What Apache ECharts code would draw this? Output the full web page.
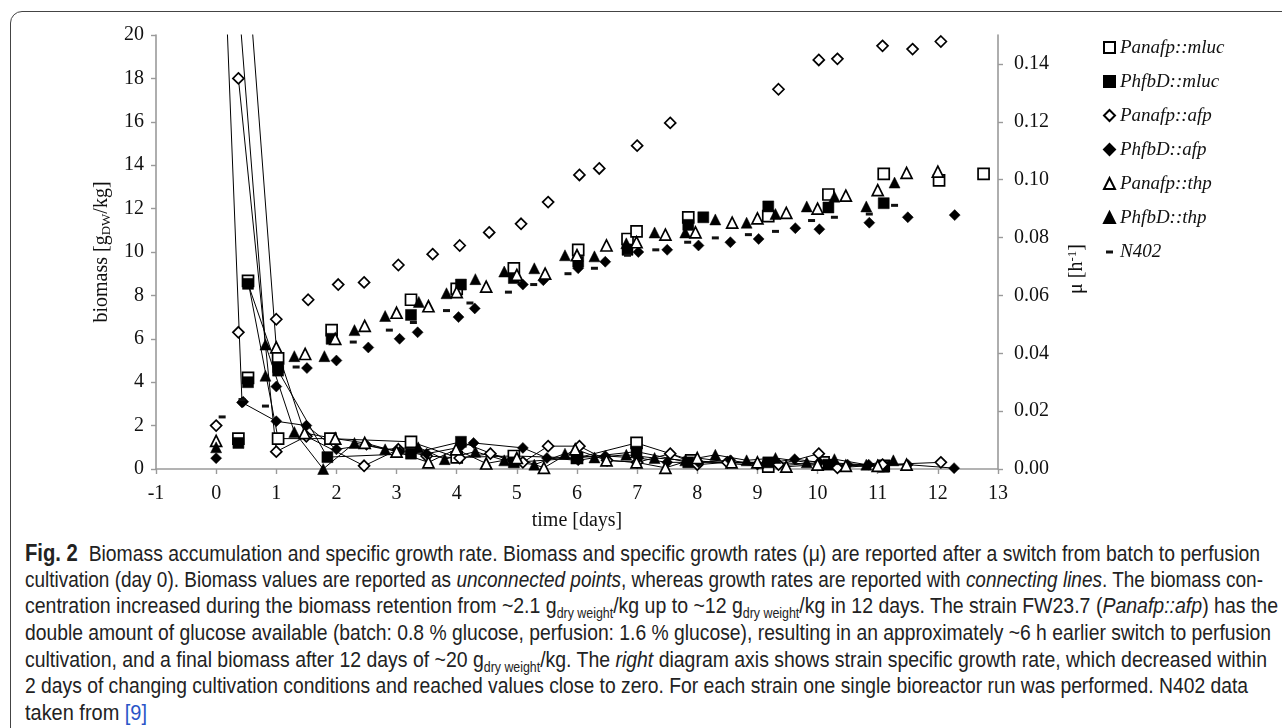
<!DOCTYPE html>
<html>
<head>
<meta charset="utf-8">
<script src="https://cdn.jsdelivr.net/npm/echarts@6/dist/echarts.min.js"></script>
<style>
  html, body { margin:0; padding:0; background:#fff; }
  body { width:1282px; height:728px; position:relative; overflow:hidden; }
  #frame { position:absolute; left:10px; top:11px; width:1300px; height:800px; border:1.5px solid #444; border-radius:12px; box-sizing:border-box; }
  #chart { position:absolute; left:0; top:0; width:1282px; height:540px; }
  #caption { position:absolute; left:25px; top:540px; font-family:"Liberation Sans","Noto Sans",sans-serif; font-size:22px; line-height:26.7px; color:#222; }
  #caption .row { height:26.7px; white-space:nowrap; }
  #caption .ln { display:inline-block; white-space:nowrap; transform-origin:0 50%; }
  #caption sub { font-size:14px; vertical-align:-5px; line-height:0; }
  #caption b { font-size:23px; }
  #caption .ref { color:#2a55c8; }
</style>
</head>
<body>
<div id="frame"></div>
<div id="chart"></div>
<div id="caption">
  <div class="row"><span class="ln" data-w="1235"><b>Fig. 2</b>&nbsp; Biomass accumulation and specific growth rate. Biomass and specific growth rates (μ) are reported after a switch from batch to perfusion</span></div>
  <div class="row"><span class="ln" data-w="1238">cultivation (day 0). Biomass values are reported as <i>unconnected points</i>, whereas growth rates are reported with <i>connecting lines</i>. The biomass con-</span></div>
  <div class="row"><span class="ln" data-w="1253">centration increased during the biomass retention from ~2.1 g<sub>dry weight</sub>/kg up to ~12 g<sub>dry weight</sub>/kg in 12 days. The strain FW23.7 (<i>Panafp::afp</i>) has the</span></div>
  <div class="row"><span class="ln" data-w="1246">double amount of glucose available (batch: 0.8 % glucose, perfusion: 1.6 % glucose), resulting in an approximately ~6 h earlier switch to perfusion</span></div>
  <div class="row"><span class="ln" data-w="1242">cultivation, and a final biomass after 12 days of ~20 g<sub>dry weight</sub>/kg. The <i>right</i> diagram axis shows strain specific growth rate, which decreased within</span></div>
  <div class="row"><span class="ln" data-w="1223">2 days of changing cultivation conditions and reached values close to zero. For each strain one single bioreactor run was performed. N402 data</span></div>
  <div class="row"><span class="ln" data-w="122">taken from <span class="ref">[9]</span></span></div>
</div>
<script>
// ---- tick labels / axis settings ----
const xTicks = { min: -1, max: 13, interval: 1 };
const yLeftTicks = { min: 0, max: 20, interval: 2 };
const yRightTicks = { min: 0, max: 0.15, interval: 0.02 };

const strains = ['Panafp::mluc','PhfbD::mluc','Panafp::afp','PhfbD::afp','Panafp::thp','PhfbD::thp','N402'];

// ---- biomass [gDW/kg] (unconnected points), [time days, biomass] ----
const bioPanafpMluc = [[0.37,1.4],[0.53,4.2],[1.03,5.1],[1.92,6.4],[3.24,7.8],[4.0,8.3],[4.95,9.25],[6.02,10.1],[6.84,10.6],[6.99,10.95],[7.85,11.6],[9.18,11.65],[10.18,12.65],[11.1,13.6],[12.02,13.3],[12.76,13.6]];
const bioPhfbdMluc = [[0.37,1.2],[0.53,4.0],[1.03,4.7],[1.92,6.0],[3.24,7.1],[4.07,8.5],[4.95,8.8],[6.02,9.55],[6.84,10.1],[7.85,11.25],[8.1,11.6],[9.18,12.1],[10.18,12.05],[11.1,12.25]];
const bioPanafpAfp = [[0,2.0],[0.37,6.3],[1.0,6.9],[1.53,7.8],[2.03,8.5],[2.46,8.6],[3.03,9.4],[3.6,9.9],[4.05,10.3],[4.54,10.9],[5.07,11.3],[5.52,12.3],[6.04,13.55],[6.37,13.85],[7.0,14.9],[7.55,15.95],[9.35,17.5],[10.02,18.85],[10.33,18.9],[11.08,19.5],[11.58,19.35],[12.05,19.7]];
const bioPhfbdAfp = [[0,0.5],[0.45,3.1],[1.0,3.8],[1.51,4.65],[2.0,5.0],[2.53,5.6],[3.05,6.0],[3.35,6.3],[4.03,7.0],[4.3,7.4],[5.1,8.5],[5.44,8.7],[6.02,9.25],[6.47,9.55],[7.02,10.0],[7.5,10.1],[8.02,10.3],[8.55,10.45],[9.02,10.6],[9.63,11.1],[10.03,11.05],[10.86,11.35],[11.5,11.6],[12.28,11.7]];
const bioPanafpThp = [[0,1.3],[1.48,5.3],[1.98,6.0],[2.47,6.6],[3.0,7.2],[3.53,7.5],[4.0,8.15],[4.49,8.4],[5.0,8.95],[5.47,9.0],[6.0,9.85],[6.49,10.3],[6.99,10.45],[7.47,10.8],[7.97,10.9],[8.58,11.35],[9.0,11.55],[9.48,11.8],[10.0,12.0],[10.47,12.6],[11.0,12.85],[11.48,13.65],[12.0,13.7]];
const bioPhfbdThp = [[0,1.0],[0.82,4.3],[1.3,5.2],[1.8,5.2],[2.3,6.4],[2.81,7.05],[3.37,7.7],[3.83,8.1],[4.31,8.75],[4.79,9.1],[5.29,9.25],[5.8,9.85],[6.29,9.8],[6.82,10.4],[7.29,10.9],[7.8,10.9],[8.3,11.5],[8.82,11.35],[9.3,11.75],[9.82,12.1],[10.28,12.55],[10.81,12.1],[11.28,13.2]];
const bioN402 = [[0.1,2.4],[0.43,3.2],[0.82,2.9],[1.33,4.7],[2.28,5.85],[2.88,6.4],[3.28,6.75],[3.83,7.3],[4.22,7.65],[4.86,8.15],[5.28,8.5],[5.85,9.0],[6.29,9.25],[6.84,9.85],[7.31,10.1],[7.84,10.45],[8.3,10.65],[8.85,10.8],[9.3,10.95],[9.9,11.45],[10.28,11.6],[10.86,11.75],[11.28,12.15]];

// ---- specific growth rate mu [1/h] (connected lines), [time days, mu] ----
const muPanafpMluc = [[0.53,0.065],[1.03,0.0105],[1.9,0.0105],[3.24,0.0094],[4.0,0.004],[4.95,0.0045],[6.0,0.0038],[6.99,0.009],[7.9,0.003],[9.18,0.0008],[10.1,0.0023],[11.1,0.0011]];
const muPhfbdMluc = [[0.53,0.064],[1.03,0.034],[1.85,0.0041],[3.24,0.0053],[4.07,0.0094],[4.95,0.0023],[6.0,0.0038],[6.99,0.006],[7.85,0.0023],[9.18,0.0023],[10.18,0.0015],[11.1,0.0008]];
const muPanafpAfp = [[0.37,0.135],[1.0,0.006],[1.5,0.0113],[2.46,0.0011],[3.03,0.0068],[3.5,0.0045],[4.05,0.0038],[4.56,0.0053],[5.1,0.0023],[5.52,0.0079],[6.04,0.0079],[6.5,0.003],[7.0,0.0023],[7.55,0.0053],[8.0,0.0015],[8.5,0.0023],[9.35,0.0015],[10.02,0.0053],[10.33,0.0004],[11.08,0.0015],[12.05,0.0023]];
const muPhfbdAfp = [[0.15,0.17],[0.43,0.023],[1.0,0.0165],[1.5,0.015],[2.0,0.0068],[2.5,0.0083],[3.05,0.006],[3.5,0.0053],[4.05,0.0075],[4.28,0.009],[5.1,0.0073],[5.5,0.0038],[6.02,0.003],[6.47,0.0045],[7.02,0.0038],[7.5,0.0023],[8.02,0.0023],[8.55,0.003],[9.0,0.0015],[9.62,0.0034],[10.03,0.0023],[10.5,0.0015],[10.85,0.0015],[11.5,0.0015],[12.27,0.0003]];
const muPanafpThp = [[0.5,0.18],[1.0,0.042],[1.47,0.0124],[1.98,0.0105],[2.47,0.009],[3.0,0.006],[3.53,0.0023],[3.99,0.0068],[4.49,0.0019],[5.0,0.0038],[5.45,0.0004],[5.97,0.0068],[6.49,0.003],[6.99,0.0023],[7.47,0.0004],[8.0,0.0038],[8.57,0.0023],[9.0,0.0023],[9.48,0.0008],[10.0,0.0015],[10.47,0.0011],[11.0,0.0011],[11.48,0.0015]];
const muPhfbdThp = [[0.4,0.155],[0.82,0.043],[1.3,0.0128],[1.78,0.0],[2.3,0.009],[2.81,0.0068],[3.36,0.0075],[3.8,0.0034],[4.31,0.006],[4.79,0.003],[5.29,0.0015],[5.8,0.0053],[6.29,0.004],[6.82,0.0049],[7.29,0.0038],[7.8,0.003],[8.3,0.0049],[8.82,0.003],[9.3,0.0038],[9.82,0.0023],[10.28,0.0034],[10.81,0.0015],[11.26,0.003]];

const bioData = [bioPanafpMluc, bioPhfbdMluc, bioPanafpAfp, bioPhfbdAfp, bioPanafpThp, bioPhfbdThp, bioN402];
const muData = [muPanafpMluc, muPhfbdMluc, muPanafpAfp, muPhfbdAfp, muPanafpThp, muPhfbdThp, null];

// marker styles
const open = { color:'#fff', borderColor:'#000', borderWidth:1.7, opacity:1 };
const filled = { color:'#000', borderColor:'#000', borderWidth:0.5, opacity:1 };
const marks = [
  { symbol:'rect', size:11, style:open },
  { symbol:'rect', size:11, style:filled },
  { symbol:'diamond', size:11, style:open },
  { symbol:'diamond', size:11, style:filled },
  { symbol:'triangle', size:11, style:open },
  { symbol:'triangle', size:11, style:filled },
  { symbol:'rect', size:[7,3], style:{ color:'#111', borderWidth:0, opacity:1 } }
];

const serif = '"Liberation Serif","Times New Roman",serif';
const series = [];
strains.forEach((name, i) => {
  series.push({
    name, type:'scatter', xAxisIndex:0, yAxisIndex:0,
    data: bioData[i], symbol: marks[i].symbol, symbolSize: marks[i].size,
    itemStyle: marks[i].style, z:3, emphasis:{disabled:true}
  });
});
strains.forEach((name, i) => {
  if (!muData[i]) return;
  series.push({
    name, type:'line', xAxisIndex:0, yAxisIndex:1,
    data: muData[i], symbol: marks[i].symbol, symbolSize: marks[i].size,
    showSymbol:true, showAllSymbol:true, clip:true,
    itemStyle: marks[i].style, lineStyle:{ color:'#000', width:1 }, z:2,
    emphasis:{disabled:true}
  });
});

const chart = echarts.init(document.getElementById('chart'), null, { renderer:'canvas' });
chart.setOption({
  animation:false,
  grid:{ left:156, right:284, top:35, bottom:71, containLabel:false },
  legend:{
    orient:'vertical', left:1098, top:32, itemWidth:11, itemHeight:11, itemGap:13,
    textStyle:{ fontFamily:serif, fontStyle:'italic', fontSize:19, color:'#111', lineHeight:21 },
    data: strains.map((n, i) => i === 6
      ? { name:n, icon:'path://M0,0M11,11M2,4.5h7v3h-7z' }
      : { name:n }),
    selectedMode:false
  },
  xAxis:{
    type:'value', min:xTicks.min, max:xTicks.max, interval:xTicks.interval,
    name:'time [days]', nameLocation:'middle', nameGap:42,
    nameTextStyle:{ fontFamily:serif, fontSize:20, color:'#111' },
    axisLine:{ show:true, onZero:false, lineStyle:{ color:'#9a9a9a', width:1.6 } },
    axisTick:{ show:true, length:5, lineStyle:{ color:'#9a9a9a', width:1.4 } },
    axisLabel:{ fontFamily:serif, fontSize:20, color:'#111', margin:15 },
    splitLine:{ show:false }
  },
  yAxis:[{
    type:'value', min:yLeftTicks.min, max:yLeftTicks.max, interval:yLeftTicks.interval,
    name:'{a|biomass [g}{s|DW}{a|/kg]}', nameLocation:'middle', nameGap:37, nameRotate:90,
    nameTextStyle:{ rich:{
      a:{ fontFamily:serif, fontSize:20, color:'#111' },
      s:{ fontFamily:serif, fontSize:13, color:'#111', verticalAlign:'bottom', padding:[9,0,0,0] }
    } },
    axisLine:{ show:true, onZero:false, lineStyle:{ color:'#9a9a9a', width:1.6 } },
    axisTick:{ show:true, length:5, lineStyle:{ color:'#9a9a9a', width:1.4 } },
    axisLabel:{ fontFamily:serif, fontSize:20, color:'#111', margin:12 },
    splitLine:{ show:false }
  },{
    type:'value', position:'right', min:yRightTicks.min, max:yRightTicks.max, interval:yRightTicks.interval,
    name:'{a|μ [h}{p|-1}{a|]}', nameLocation:'middle', nameGap:68, nameRotate:90,
    nameTextStyle:{ padding:[0,0,0,-34], rich:{
      a:{ fontFamily:serif, fontSize:20, color:'#111' },
      p:{ fontFamily:serif, fontSize:13, color:'#111', verticalAlign:'top', padding:[0,0,9,0] }
    } },
    axisLine:{ show:true, onZero:false, lineStyle:{ color:'#9a9a9a', width:1.6 } },
    axisTick:{ show:true, length:5, lineStyle:{ color:'#9a9a9a', width:1.4 } },
    axisLabel:{ fontFamily:serif, fontSize:20, color:'#111', margin:16, showMaxLabel:false,
      formatter: v => v.toFixed(2) },
    splitLine:{ show:false }
  }],
  series
});

// fit caption lines horizontally to their widths in the reference (condensed face)
function fitCaption(){
  document.querySelectorAll('#caption .ln').forEach(el => {
    el.style.transform = 'none';
    const target = +el.dataset.w;
    const w = el.getBoundingClientRect().width;
    el.style.transform = 'scaleX(' + (target / w) + ')';
  });
}
fitCaption();
if (document.fonts && document.fonts.ready) document.fonts.ready.then(fitCaption);
</script>
</body>
</html>
